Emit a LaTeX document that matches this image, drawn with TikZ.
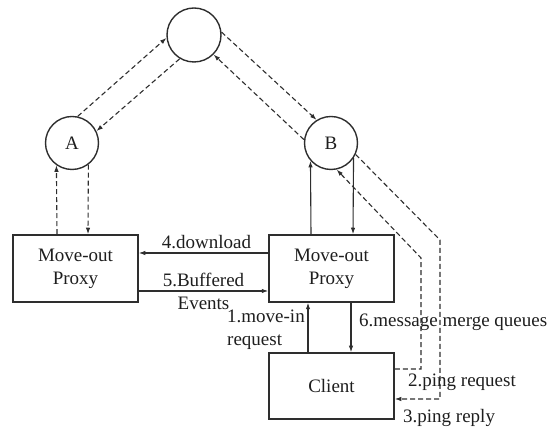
\documentclass[tikz,border=0pt]{standalone}
\usepackage{fontspec}
\setmainfont{Liberation Serif}
\usetikzlibrary{arrows.meta,calc}
\definecolor{ink}{HTML}{2E2E2E}
\definecolor{txt}{HTML}{1E1E1E}
\begin{document}
\begin{tikzpicture}[x=1pt,y=1pt,
  every node/.style={font=\fontsize{19}{23}\selectfont, text=txt},
  peer/.style={circle, draw=ink, line width=1.4pt, minimum size=53pt, inner sep=0pt},
  boxnode/.style={rectangle, draw=ink, line width=1.5pt, minimum width=125pt, inner sep=0pt, align=center},
  link/.style={draw=ink, line width=1.1pt, -{Latex[length=6.5pt,width=4.5pt]}},
  dlink/.style={link, dash pattern=on 5pt off 3pt},
  lbl/.style={inner sep=0pt, align=left}]
\useasboundingbox (0,0) rectangle (558,430);

% peers
\node[peer, minimum size=54pt] (T) at (194,395) {};
\node[peer] (A) at (72,287) {A};
\node[peer] (B) at (331,287) {B};

% proxies and client
\node[boxnode, minimum height=67pt] (LP) at (75.5,161.5) {Move-out\\Proxy};
\node[boxnode, minimum height=67pt] (RP) at (331.5,161.5) {Move-out\\Proxy};
\node[boxnode, minimum height=66pt] (C) at (331.5,44) {Client};

% overlay links between peers
\draw[dlink] (A.78) -- (T.186);
\draw[dlink] (T.239) -- (A.26);
\draw[dlink] (T.6) -- (B.122);
\draw[dlink] (B.173) -- (T.315);

% proxy <-> peer
\draw[dlink] ([xshift=-18.5pt]LP.north) -- (A.235);
\draw[dlink] (A.307) -- ([xshift=12.5pt]LP.north);
\draw[link] ([xshift=-20.5pt]RP.north) -- (B.221);
\draw[link] (B.326) -- ([xshift=21.5pt]RP.north);

% proxy <-> proxy
\draw[link] ([yshift=15.5pt]RP.west) -- node[lbl, above=4pt, xshift=3pt] {4.download} ([yshift=15.5pt]LP.east);
\draw[link] ([yshift=-22.5pt]LP.east) -- node[inner sep=0pt, align=center] {5.Buffered\\Events} ([yshift=-22.5pt]RP.west);

% client <-> proxy
\draw[link] ([xshift=-23.5pt]C.north) -- ([xshift=-23.5pt]RP.south);
\draw[link] ([xshift=19.5pt]RP.south) -- ([xshift=19.5pt]C.north);
\node[lbl, anchor=west] (mi) at (227,100) {1.move-in\\request};
\node[lbl, anchor=west] (mq) at (359,108) {6.message merge queues};

% ping request and reply
\coordinate (r1) at (421,61);
\coordinate (r2) at (421,172);
\draw[dlink] ([yshift=17pt]C.east) -- (r1) -- (r2) -- (B.282);
\coordinate (p1) at (440,190);
\coordinate (p2) at (440,31);
\draw[dlink] (B.335) -- (p1) -- (p2) -- ([yshift=-13pt]C.east);
\node[lbl, anchor=west] (pq) at (408,48) {2.ping request};
\node[lbl, anchor=west] (pr) at (403,12) {3.ping reply};
\end{tikzpicture}
\end{document}
